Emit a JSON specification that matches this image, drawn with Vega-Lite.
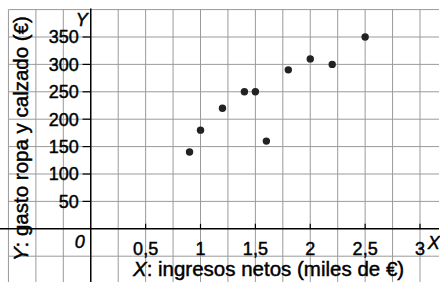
{
  "$schema": "https://vega.github.io/schema/vega-lite/v6.json",
  "width": 440,
  "height": 282,
  "padding": 0,
  "autosize": {"type": "fit", "contains": "padding"},
  "config": {"view": {"stroke": null}, "font": "Liberation Sans", "text": {"font": "Liberation Sans", "color": "#000", "stroke": "#000", "strokeWidth": 0.45}},
  "datasets": {
    "points": [
      {"ingresos": 0.9, "gasto": 140},
      {"ingresos": 1.0, "gasto": 180},
      {"ingresos": 1.2, "gasto": 220},
      {"ingresos": 1.4, "gasto": 250},
      {"ingresos": 1.5, "gasto": 250},
      {"ingresos": 1.6, "gasto": 160},
      {"ingresos": 1.8, "gasto": 290},
      {"ingresos": 2.0, "gasto": 310},
      {"ingresos": 2.2, "gasto": 300},
      {"ingresos": 2.5, "gasto": 350}
    ],
    "gx": [
      {"v": -0.75}, {"v": -0.5}, {"v": -0.25}, {"v": 0.25}, {"v": 0.5}, {"v": 0.75},
      {"v": 1}, {"v": 1.25}, {"v": 1.5}, {"v": 1.75}, {"v": 2}, {"v": 2.25},
      {"v": 2.5}, {"v": 2.75}, {"v": 3}
    ],
    "gy": [
      {"v": -50}, {"v": 50}, {"v": 100}, {"v": 150}, {"v": 200},
      {"v": 250}, {"v": 300}, {"v": 350}, {"v": 400}
    ],
    "xt": [
      {"v": 0.5, "lab": "0,5"}, {"v": 1, "lab": "1"}, {"v": 1.5, "lab": "1,5"},
      {"v": 2, "lab": "2"}, {"v": 2.5, "lab": "2,5"}, {"v": 3, "lab": "3"}
    ],
    "yt": [
      {"v": 50, "lab": "50"}, {"v": 100, "lab": "100"}, {"v": 150, "lab": "150"},
      {"v": 200, "lab": "200"}, {"v": 250, "lab": "250"}, {"v": 300, "lab": "300"},
      {"v": 350, "lab": "350"}
    ]
  },
  "layer": [
    {
      "data": {"name": "gx"},
      "mark": {"type": "rule", "color": "#9a9a9a", "strokeWidth": 1, "clip": true},
      "encoding": {
        "x": {"field": "v", "type": "quantitative", "scale": {"domain": [-0.827, 3.173], "nice": false, "zero": false}, "axis": null},
        "y": {"datum": 400, "type": "quantitative", "scale": {"domain": [-97.1, 417.5], "nice": false, "zero": false}, "axis": null},
        "y2": {"datum": -120}
      }
    },
    {
      "data": {"name": "gy"},
      "mark": {"type": "rule", "color": "#9a9a9a", "strokeWidth": 1, "clip": true},
      "encoding": {
        "y": {"field": "v", "type": "quantitative"},
        "x": {"datum": -0.75, "type": "quantitative"},
        "x2": {"datum": 3.4}
      }
    },
    {
      "data": {"values": [{}]},
      "mark": {"type": "rule", "color": "#000", "strokeWidth": 1.5, "clip": true},
      "encoding": {
        "y": {"datum": 0, "type": "quantitative"},
        "x": {"datum": -0.9, "type": "quantitative"},
        "x2": {"datum": 3.4}
      }
    },
    {
      "data": {"values": [{}]},
      "mark": {"type": "rule", "color": "#000", "strokeWidth": 1.5, "clip": true},
      "encoding": {
        "x": {"datum": 0, "type": "quantitative"},
        "y": {"datum": 402, "type": "quantitative"},
        "y2": {"datum": -120}
      }
    },
    {
      "data": {"name": "xt"},
      "mark": {"type": "rule", "color": "#000", "strokeWidth": 1.2},
      "encoding": {
        "x": {"field": "v", "type": "quantitative"},
        "y": {"datum": 0, "type": "quantitative"},
        "y2": {"datum": 9}
      }
    },
    {
      "data": {"name": "yt"},
      "mark": {"type": "rule", "color": "#000", "strokeWidth": 1.2},
      "encoding": {
        "y": {"field": "v", "type": "quantitative"},
        "x": {"datum": 0, "type": "quantitative"},
        "x2": {"datum": -0.075}
      }
    },
    {
      "data": {"name": "xt"},
      "mark": {"type": "text", "align": "center", "baseline": "alphabetic", "dy": 26, "fontSize": 18},
      "encoding": {
        "x": {"field": "v", "type": "quantitative"},
        "y": {"datum": 0, "type": "quantitative"},
        "text": {"field": "lab"}
      }
    },
    {
      "data": {"name": "yt"},
      "mark": {"type": "text", "align": "right", "baseline": "alphabetic", "dx": -12, "dy": 6.5, "fontSize": 18},
      "encoding": {
        "y": {"field": "v", "type": "quantitative"},
        "x": {"datum": 0, "type": "quantitative"},
        "text": {"field": "lab"}
      }
    },
    {
      "data": {"values": [{"t": "0"}]},
      "mark": {"type": "text", "align": "right", "baseline": "alphabetic", "dx": -6, "dy": 19, "fontSize": 18, "fontStyle": "italic"},
      "encoding": {
        "x": {"datum": 0, "type": "quantitative"},
        "y": {"datum": 0, "type": "quantitative"},
        "text": {"field": "t"}
      }
    },
    {
      "data": {"values": [{"t": "X"}]},
      "mark": {"type": "text", "align": "left", "baseline": "alphabetic", "dy": 20, "fontSize": 18, "fontStyle": "italic"},
      "encoding": {
        "x": {"datum": 3.07, "type": "quantitative"},
        "y": {"datum": 0, "type": "quantitative"},
        "text": {"field": "t"}
      }
    },
    {
      "data": {"values": [{"t": "Y"}]},
      "mark": {"type": "text", "align": "right", "baseline": "alphabetic", "dx": -3, "dy": 16, "fontSize": 18, "fontStyle": "italic"},
      "encoding": {
        "x": {"datum": 0, "type": "quantitative"},
        "y": {"datum": 400, "type": "quantitative"},
        "text": {"field": "t"}
      }
    },
    {
      "data": {"values": [{"t": "X"}]},
      "mark": {"type": "text", "align": "right", "baseline": "alphabetic", "dy": 47.5, "fontSize": 20.5, "fontStyle": "italic"},
      "encoding": {
        "x": {"datum": 0.509, "type": "quantitative"},
        "y": {"datum": 0, "type": "quantitative"},
        "text": {"field": "t"}
      }
    },
    {
      "data": {"values": [{"t": ": ingresos netos (miles de €)"}]},
      "mark": {"type": "text", "align": "left", "baseline": "alphabetic", "dy": 47.5, "fontSize": 20.5},
      "encoding": {
        "x": {"datum": 0.509, "type": "quantitative"},
        "y": {"datum": 0, "type": "quantitative"},
        "text": {"field": "t"}
      }
    },
    {
      "data": {"values": [{"t": "Y"}]},
      "mark": {"type": "text", "align": "right", "baseline": "alphabetic", "angle": 270, "fontSize": 20.5, "fontStyle": "italic"},
      "encoding": {
        "x": {"datum": -0.573, "type": "quantitative"},
        "y": {"datum": -34, "type": "quantitative"},
        "text": {"field": "t"}
      }
    },
    {
      "data": {"values": [{"t": ": gasto ropa y calzado (€)"}]},
      "mark": {"type": "text", "align": "left", "baseline": "alphabetic", "angle": 270, "fontSize": 20.5},
      "encoding": {
        "x": {"datum": -0.573, "type": "quantitative"},
        "y": {"datum": -34, "type": "quantitative"},
        "text": {"field": "t"}
      }
    },
    {
      "data": {"name": "points"},
      "mark": {"type": "circle", "color": "#222", "size": 55, "opacity": 1},
      "encoding": {
        "x": {"field": "ingresos", "type": "quantitative"},
        "y": {"field": "gasto", "type": "quantitative"}
      }
    }
  ]
}
